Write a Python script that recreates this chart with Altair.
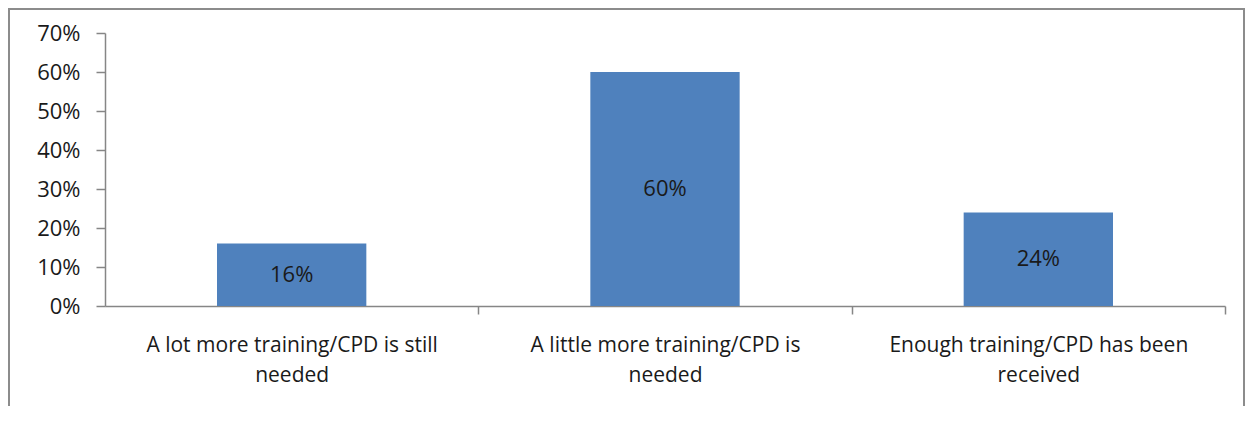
import altair as alt
import pandas as pd

categories = [
    "A lot more training/CPD is still\nneeded",
    "A little more training/CPD is\nneeded",
    "Enough training/CPD has been\nreceived",
]
values = [0.16, 0.60, 0.24]
y_ticks = [0, 0.1, 0.2, 0.3, 0.4, 0.5, 0.6, 0.7]

df = pd.DataFrame({"category": categories, "value": values})

FONT = "Open Sans"
AXIS_COLOR = "#868686"
TEXT_COLOR = "#1a1a1a"
PLOT_W = 1120
HALF_STEP = PLOT_W / len(categories) / 2

x_axis = alt.Axis(
    title=None,
    labelAngle=0,
    labelExpr="split(datum.label, '\\n')",
    labelFont=FONT,
    labelFontSize=21,
    labelColor=TEXT_COLOR,
    labelLineHeight=30,
    labelPadding=20,
    labelBaseline="top",
    labelLimit=0,
    labelOverlap=False,
    ticks=True,
    tickOffset=HALF_STEP,
    labelOffset=-HALF_STEP,
    tickSize=8,
    tickOpacity=1,
    tickColor=AXIS_COLOR,
    tickWidth=1.5,
    domainColor=AXIS_COLOR,
    domainWidth=1.5,
    grid=False,
)

y_axis = alt.Axis(
    title=None,
    values=y_ticks,
    format=".0%",
    labelFont=FONT,
    labelFontSize=22,
    labelColor=TEXT_COLOR,
    labelPadding=16,
    labelOverlap=False,
    tickSize=9,
    tickColor=AXIS_COLOR,
    tickWidth=1.5,
    domainColor=AXIS_COLOR,
    domainWidth=1.5,
    grid=False,
)

x_scale = alt.Scale(paddingInner=0.6, paddingOuter=0.3)
y_scale = alt.Scale(domain=[0, 0.7], nice=False)

bars = alt.Chart(df).mark_bar(color="#4F81BD").encode(
    x=alt.X("category:N", sort=categories, scale=x_scale, axis=x_axis),
    y=alt.Y("value:Q", scale=y_scale, axis=y_axis),
)

labels = alt.Chart(df).transform_calculate(
    mid="datum.value / 2"
).mark_text(font=FONT, fontSize=22, color=TEXT_COLOR, baseline="middle").encode(
    x=alt.X("category:N", sort=categories, scale=x_scale, axis=x_axis),
    y=alt.Y("mid:Q", scale=y_scale, axis=y_axis),
    text=alt.Text("value:Q", format=".0%"),
)

border = alt.Chart(df).mark_rect(
    fill="transparent", stroke="#8c8c8c", strokeWidth=2
).encode(
    x=alt.value(-96),
    x2=alt.value(1139),
    y=alt.value(-24),
    y2=alt.value(420),
)

chart = alt.layer(border, bars, labels).properties(
    width=PLOT_W,
    height=273,
    background="white",
    autosize=alt.AutoSizeParams(type="none"),
    padding={"left": 97, "top": 25, "right": 20, "bottom": 100},
).configure_view(stroke="transparent", strokeWidth=0)

chart.save("out.html", embed_options={"renderer": "svg", "actions": False})
